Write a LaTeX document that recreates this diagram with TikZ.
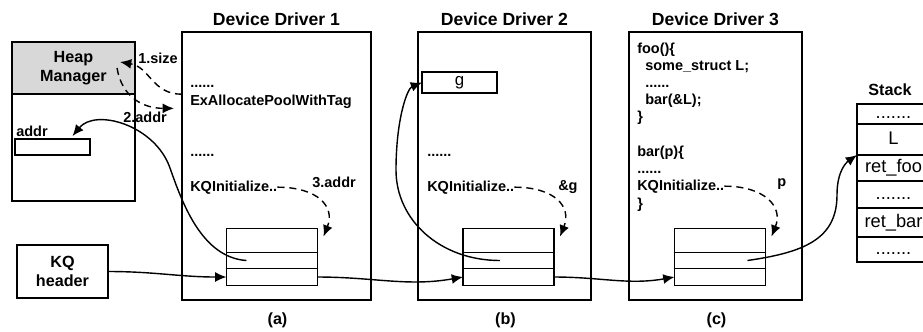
\documentclass[tikz,border=0pt]{standalone}
\usepackage{fontspec}
\setmainfont{Liberation Sans}
\usetikzlibrary{calc,arrows.meta,positioning}
\definecolor{heapGray}{RGB}{216,216,216}
\newcommand{\dotrow}{.......}

\begin{document}
\begin{tikzpicture}[x=0.025cm,y=-0.025cm,
  box/.style={draw,line width=1.2pt,inner sep=0pt,outer sep=0pt},
  code/.style={anchor=base west,inner sep=0pt,font=\bfseries\fontsize{10.3}{12}\selectfont},
  link/.style={line width=1pt,-{Latex[length=8pt,width=7pt]}},
  call/.style={link,dash pattern=on 5pt off 3.5pt}]
\useasboundingbox (0,0) rectangle (923,331);
\clip (0,0) rectangle (923,331);

% heap
\node[box,fill=heapGray,minimum width=3.075cm,minimum height=1.3cm,align=center,
      font=\bfseries\fontsize{11.5}{13.5}\selectfont] (heapTop) at (73.5,68) {Heap\\Manager};
\node[box,minimum width=3.075cm,minimum height=2.675cm,anchor=north] (heapBody) at (heapTop.south) {};
\node[box,minimum width=1.875cm,minimum height=0.4cm] (addrBox) at (52.5,147) {};
\node[code] (addrLbl) at (16,136) {addr};
\node[box,minimum width=2.275cm,minimum height=1.325cm,align=center,
      font=\bfseries\fontsize{11.5}{13.5}\selectfont] (kqHeader) at (62.5,271.5) {KQ\\header};

% drivers
\foreach \i/\cx/\w/\l in {1/276.5/4.725/a,2/504.5/4.325/b,3/715.5/4.325/c}{
  \node[box,minimum width=\w cm,minimum height=6.7cm] (drv\i) at (\cx,166) {};
  \node[anchor=base,font=\bfseries\fontsize{12.5}{14}\selectfont] (drvTtl\i) at (\cx,25) {Device Driver \i};
  \node[anchor=base,font=\bfseries\fontsize{11.5}{13}\selectfont] (cap\i) at (\cx+1,324) {(\l)};
}
\foreach \i/\qx in {1/272,2/508.5,3/720}{
  \node[box,minimum width=2.275cm,minimum height=0.6cm] (qTop\i) at (\qx,240.5) {};
  \node[box,minimum width=2.275cm,minimum height=0.4cm,anchor=north] (qMid\i) at (qTop\i.south) {};
  \node[box,minimum width=2.275cm,minimum height=0.425cm,anchor=north] (qBot\i) at (qMid\i.south) {};
}

\node[code] (dotsA1) at (190,87) {......};
\node[code] (exAlloc) at (190,105) {ExAllocatePoolWithTag};
\node[code] (dotsA2) at (190,156) {......};
\node[code] (kq1) at (190,191) {KQInitialize..};
\node[code] (sizeLbl) at (138,63) {1.size};
\node[code] (addrLbl2) at (123,122) {2.addr};
\node[code] (addrLbl3) at (312,187) {3.addr};

\node[box,minimum width=1.875cm,minimum height=0.525cm,font=\fontsize{12}{14}\selectfont] (gBox) at (459.5,82.5) {g};
\node[code] (dotsB1) at (427,156) {......};
\node[code] (kq2) at (427,191) {KQInitialize..};
\node[code] (gRef) at (558,190) {\&g};

\node[code] (fooHead) at (637,53) {foo()\{};
\node[code] (fooDecl) at (645,70) {some\_struct L;};
\node[code] (fooDots) at (645,87) {......};
\node[code] (fooCall) at (645,104) {bar(\&L);};
\node[code] (fooEnd) at (637,121) {\}};
\node[code] (barHead) at (637,156) {bar(p)\{};
\node[code] (barDots) at (637,173) {......};
\node[code] (kq3) at (637,190) {KQInitialize..};
\node[code] (barEnd) at (637,208) {\}};
\node[code] (pRef) at (777,186) {p};

% stack
\node[anchor=base,font=\bfseries\fontsize{11.5}{13}\selectfont] (stackTtl) at (890,95) {Stack};
\foreach \t/\cy/\h [count=\k] in {\dotrow/114/0.5,L/139.5/0.775,ret\_foo/168/0.65,\dotrow/194.5/0.675,ret\_bar/222.5/0.725,\dotrow/249.5/0.625}
  \node[box,minimum width=1.825cm,minimum height=\h cm,text height=9pt,text depth=2.5pt,
        font=\fontsize{13}{15}\selectfont] (stk\k) at (893.5,\cy) {\t};

\coordinate (sizeTip) at ($(heapTop.east)+(-15,-6)$);
\coordinate (addrTip2) at ($(drv1.west |- exAlloc.south)+(-8,0)$);
\coordinate (addrTip) at ($(addrBox.north)+(20,-3)$);
\draw[call] (drv1.west |- exAlloc.north) .. controls +(-30,0) and +(30,5) .. (sizeTip);
\draw[call] ($(heapTop.east)+(-18,0)$) .. controls +(5,30) and +(-30,0) .. (addrTip2);
\foreach \i in {1,2,3}
  \draw[call] (kq\i.east) .. controls +(40,0) and +(12,-30) .. ($(qTop\i.north east)+(6,8)$);

\draw[link] ($(qMid1.west)+(20,0)$) .. controls +(-45,-3) and +(12,34) .. (170,168) .. controls +(-15,-43) and +(23,-28) .. (addrTip);
\draw[link] ($(qMid2.west)+(37,0)$) .. controls +(-60,0) and +(0,50) .. (396,170) .. controls +(0,-50) and +(-15,6) .. (gBox.west);
\draw[link] ($(qMid3.west)+(73,0)$) .. controls +(55,-8) and +(0,45) .. (837,195) .. controls +(0,-25) and +(-10,7) .. (stk3.north west);
\draw[link] (kqHeader.east) to[out=0,in=180] (qBot1.west);
\draw[link] (qBot1.east) to[out=0,in=190] (qBot2.west);
\draw[link] (qBot2.east) to[out=0,in=190] (qBot3.west);
\end{tikzpicture}
\end{document}
